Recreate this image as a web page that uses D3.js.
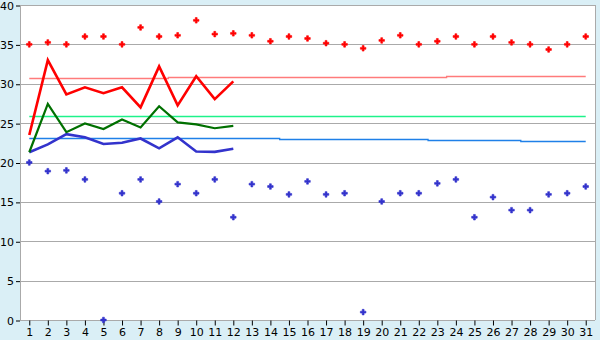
<!DOCTYPE html>
<html>
<head>
<meta charset="utf-8">
<script src="https://cdn.jsdelivr.net/npm/d3@7"></script>
<style>
body { margin: 0; background: #daeff6; }
svg { display: block; }
text { font-family: "DejaVu Sans", Verdana, sans-serif; font-size: 11px; fill: #000; }
</style>
</head>
<body>
<svg id="chart" width="600" height="340"></svg>
<script>
// days of month
var days = d3.range(1, 32);
var yTicks = [0, 5, 10, 15, 20, 25, 30, 35, 40];

// daily max / min markers
var maxDots = [35, 35.25, 35, 36, 36, 35, 37.15, 36, 36.15, 38.05, 36.3, 36.4, 36.15, 35.4, 36, 35.75,
	35.15, 35, 34.5, 35.5, 36.15, 35, 35.4, 36, 35, 36, 35.25, 35, 34.35, 35, 36];
var minDots = [20, 18.9, 19, 17.85, 0, 16.1, 17.85, 15.05, 17.25, 16.1, 17.85, 13.05, 17.25, 16.95, 15.95, 17.6,
	15.95, 16.1, 1, 15.05, 16.1, 16.1, 17.35, 17.85, 13.05, 15.6, 13.95, 13.95, 15.95, 16.1, 16.95];

// observed lines (days 1-12)
var maxLine = [23.5, 33, 28.65, 29.55, 28.8, 29.55, 27, 32.2, 27.25, 30.95, 28.05, 30.3];
var meanLine = [21.3, 27.45, 23.85, 24.95, 24.25, 25.45, 24.45, 27.15, 25.1, 24.85, 24.35, 24.65];
var minLine = [21.3, 22.3, 23.6, 23.2, 22.35, 22.5, 23.05, 21.8, 23.2, 21.4, 21.35, 21.75];

// normals per day
var maxNormal = [30.7, 30.7, 30.7, 30.7, 30.7, 30.7, 30.7, 30.7, 30.82, 30.82, 30.82, 30.82, 30.82, 30.82, 30.82, 30.82,
	30.82, 30.82, 30.82, 30.82, 30.82, 30.82, 30.82, 30.94, 30.94, 30.94, 30.94, 30.94, 30.94, 30.94, 30.94];
var meanNormal = days.map(function(){ return 25.9; });
var minNormal = [23.07, 23.07, 23.07, 23.07, 23.07, 23.07, 23.07, 23.07, 23.07, 23.07, 23.07, 23.07, 23.07, 23.07,
	22.94, 22.94, 22.94, 22.94, 22.94, 22.94, 22.94, 22.94, 22.81, 22.81, 22.81, 22.81, 22.81, 22.69, 22.69, 22.69, 22.69];

var svg = d3.select('#chart');
var plotL = 20, plotR = 595, plotT = 5, plotB = 320;

var x = d3.scalePoint().domain(days).range([plotL, plotR]).padding(0.5);
var y = d3.scaleLinear().domain([0, 40]).range([plotB, plotT]);

// plot background
svg.append('rect')
	.attr('x', plotL).attr('y', plotT)
	.attr('width', plotR - plotL).attr('height', plotB - plotT)
	.attr('fill', '#fff');

// gridlines
svg.append('g')
	.selectAll('line')
	.data(yTicks)
	.enter()
	.append('line')
	.attr('x1', plotL).attr('x2', plotR)
	.attr('y1', function(d) { return Math.round(y(d)) + 0.5; })
	.attr('y2', function(d) { return Math.round(y(d)) + 0.5; })
	.attr('stroke', '#aaa')
	.attr('stroke-width', 1);

// plot border (left / right)
svg.append('line').attr('x1', plotL + 0.5).attr('x2', plotL + 0.5).attr('y1', plotT).attr('y2', plotB)
	.attr('stroke', '#aaa').attr('stroke-width', 1);
svg.append('line').attr('x1', plotR + 0.5).attr('x2', plotR + 0.5).attr('y1', plotT).attr('y2', plotB)
	.attr('stroke', '#aaa').attr('stroke-width', 1);

// axes
var xAxis = d3.axisBottom(x).tickSize(5).tickPadding(3);
var gx = svg.append('g').attr('transform', 'translate(0,' + (plotB + 0.5) + ')').call(xAxis);
gx.select('.domain').remove();
gx.selectAll('line').attr('stroke', '#000');

var yAxis = d3.axisLeft(y).tickValues(yTicks).tickSize(4).tickPadding(2);
var gy = svg.append('g').attr('transform', 'translate(' + plotL + ',0.5)').call(yAxis);
gy.select('.domain').remove();
gy.selectAll('line').attr('stroke', '#000');
gy.selectAll('text').style('font-size', '11px');
gx.selectAll('text').style('font-size', '11px');

// normals
var stepLine = d3.line()
	.x(function(d, i) { return x(days[i]); })
	.y(function(d) { return Math.round(y(d)) + 0.5; })
	.curve(d3.curveStep);

var normals = [
	{ vals: maxNormal, color: '#ff7b7b' },
	{ vals: meanNormal, color: '#1ef28a' },
	{ vals: minNormal, color: '#1f80e8' }
];
svg.append('g')
	.selectAll('path')
	.data(normals)
	.enter()
	.append('path')
	.attr('d', function(d) { return stepLine(d.vals); })
	.attr('fill', 'none')
	.attr('stroke', function(d) { return d.color; })
	.attr('stroke-width', 1.3);

// observed lines
var obsLine = d3.line()
	.x(function(d, i) { return x(days[i]); })
	.y(function(d) { return y(d); });

var observed = [
	{ vals: minLine, color: '#3333cc', w: 2.6 },
	{ vals: meanLine, color: '#007000', w: 2.2 },
	{ vals: maxLine, color: '#ff0000', w: 2.6 }
];
svg.append('g')
	.selectAll('path')
	.data(observed)
	.enter()
	.append('path')
	.attr('d', function(d) { return obsLine(d.vals); })
	.attr('fill', 'none')
	.attr('stroke', function(d) { return d.color; })
	.attr('stroke-width', function(d) { return d.w; })
	.attr('stroke-linejoin', 'miter');

// dots
var sym = d3.symbol().type(d3.symbolCross).size(17);
addDots = function(vals, color){
	svg.append('g')
		.selectAll('path')
		.data(vals)
		.enter()
		.append('path')
		.attr('transform', function(d, i) { return 'translate(' + x(days[i]) + ',' + y(d) + ')'; })
		.attr('d', sym)
		.attr('fill', color)
		.attr('stroke', color)
		.attr('stroke-width', 0.6);
};
addDots(maxDots, '#ff0000');
addDots(minDots, '#3333cc');
</script>
</body>
</html>
